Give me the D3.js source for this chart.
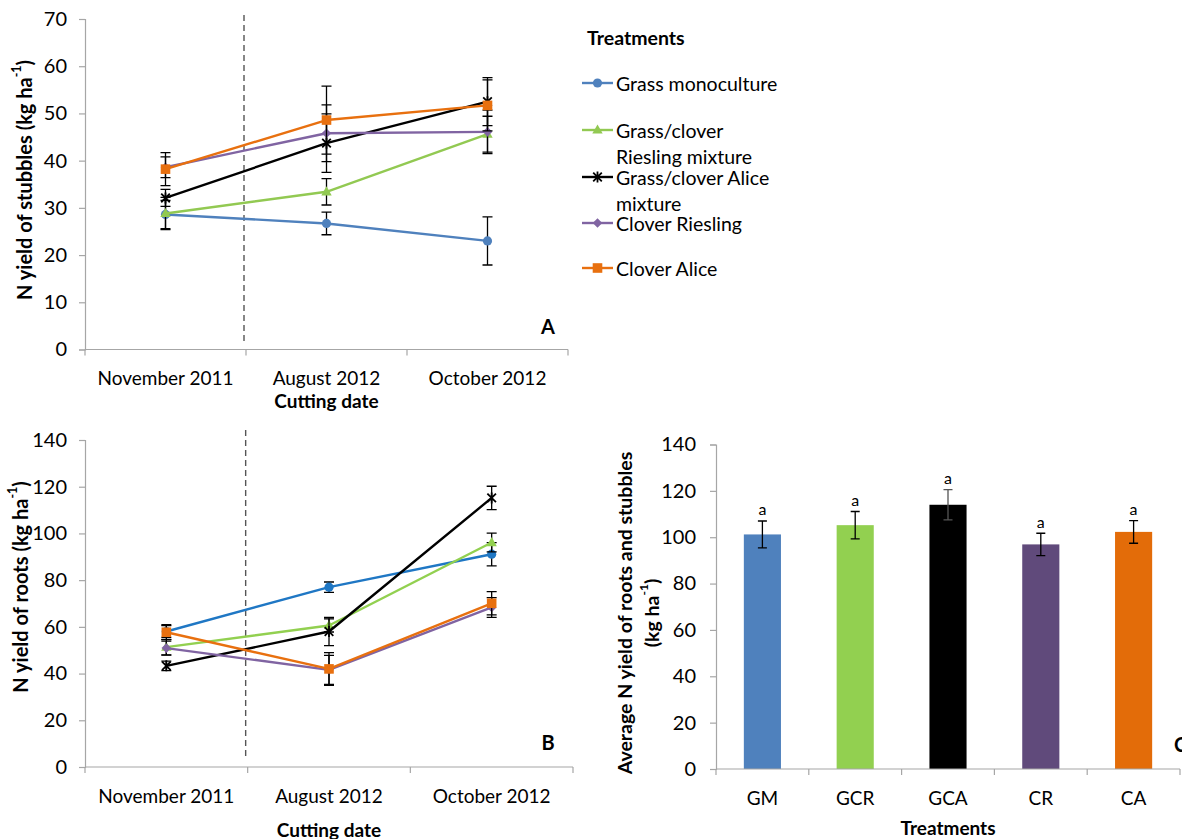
<!DOCTYPE html>
<html>
<head>
<meta charset="utf-8">
<script src="https://cdn.jsdelivr.net/npm/d3@7"></script>
<style>
  body { margin: 0; background: #fff; }
  svg { display: block; }
  text { font-family: Lato, "Open Sans", sans-serif; fill: #000; }
</style>
</head>
<body>
<svg id="fig" width="1182" height="839"></svg>
<script>
// ---------- data ----------
const cuttingDates = ["November 2011", "August 2012", "October 2012"];
const treatmentCodes = ["GM", "GCR", "GCA", "CR", "CA"];
const legendLabels = [
  ["Grass monoculture"],
  ["Grass/clover", "Riesling mixture"],
  ["Grass/clover Alice", "mixture"],
  ["Clover Riesling"],
  ["Clover Alice"]
];

// A: N yield of stubbles (kg/ha), mean and standard error per cutting date
const stubbleGM  = [28.6, 26.7, 23.0], stubbleGMErr  = [3.0, 2.4, 5.1];
const stubbleGCR = [28.8, 33.4, 45.6], stubbleGCRErr = [3.4, 2.8, 3.8];
const stubbleGCA = [32.1, 43.7, 52.5], stubbleGCAErr = [1.8, 6.2, 5.1];
const stubbleCR  = [38.6, 45.8, 46.1], stubbleCRErr  = [2.2, 6.0, 4.6];
const stubbleCA  = [38.2, 48.6, 51.7], stubbleCAErr  = [3.5, 7.2, 5.4];

// B: N yield of roots (kg/ha)
const rootGM  = [58.0, 77.0, 91.1],  rootGMErr  = [2.5, 2.2, 5.0];
const rootGCR = [51.3, 60.6, 96.1],  rootGCRErr = [3.3, 2.8, 4.0];
const rootGCA = [43.3, 58.0, 115.2], rootGCAErr = [2.0, 6.0, 5.0];
const rootCR  = [50.9, 41.6, 68.3],  rootCRErr  = [3.0, 6.2, 4.2];
const rootCA  = [57.7, 42.0, 70.1],  rootCAErr  = [3.2, 7.0, 5.0];

// C: average N yield of roots and stubbles (kg/ha)
const averageN    = [101.2, 105.2, 114.0, 96.9, 102.3];
const averageNErr = [5.8, 5.9, 6.5, 4.8, 4.9];
const significance = ["a", "a", "a", "a", "a"];

const ticksA = [0, 10, 20, 30, 40, 50, 60, 70];
const ticksB = [0, 20, 40, 60, 80, 100, 120, 140];
const ticksC = [0, 20, 40, 60, 80, 100, 120, 140];

// ---------- styles ----------
const markerShapes = ["circle", "triangle", "asterisk", "diamond", "square"];
const lineColorsA = ["#4F81BD", "#92C952", "#000000", "#8064A2", "#E8700F"];
const lineColorsB = ["#1F77C4", "#92D050", "#000000", "#8064A2", "#E8700F"];
const barColors   = ["#4F81BD", "#92D050", "#000000", "#604A7B", "#E36C09"];
const axisGrey = "#A6A6A6";

const svg = d3.select("#fig");

function drawMarker(g, shape, x, y, color) {
  if (shape === "circle") {
    g.append("circle").attr("cx", x).attr("cy", y).attr("r", 4.6).attr("fill", color);
  } else if (shape === "square") {
    g.append("rect").attr("x", x - 4.8).attr("y", y - 4.8).attr("width", 9.6).attr("height", 9.6).attr("fill", color);
  } else if (shape === "triangle") {
    g.append("path").attr("d", `M${x},${y - 5.5}L${x + 5.2},${y + 3.6}L${x - 5.2},${y + 3.6}Z`).attr("fill", color);
  } else if (shape === "diamond") {
    g.append("path").attr("d", `M${x},${y - 4.8}L${x + 4.8},${y}L${x},${y + 4.8}L${x - 4.8},${y}Z`).attr("fill", color);
  } else if (shape === "asterisk") {
    const s = 4.3;
    g.append("path")
      .attr("d", `M${x - s},${y - s}L${x + s},${y + s}M${x - s},${y + s}L${x + s},${y - s}M${x},${y - 5.5}L${x},${y + 5.5}`)
      .attr("stroke", color).attr("stroke-width", 1.8).attr("fill", "none");
  }
}

function yTitle(x, y, parts, size) {
  const t = svg.append("text")
    .attr("transform", `translate(${x},${y}) rotate(-90)`)
    .attr("text-anchor", "middle")
    .attr("dominant-baseline", "central")
    .attr("font-weight", "bold")
    .attr("font-size", size);
  parts.forEach(p => {
    const ts = t.append("tspan").text(p.t);
    if (p.sup) ts.attr("baseline-shift", "super").attr("font-size", size * 0.62);
  });
  return t;
}

// ---------- line panels (A and B) ----------
function linePanel(cfg) {
  const x = d3.scaleBand().domain(cuttingDates).range(cfg.xRange).padding(0);
  const y = d3.scaleLinear().domain(cfg.yDomain).range(cfg.yRange);
  const g = svg.append("g");

  // y axis
  const ya = g.append("g").attr("transform", `translate(${cfg.xRange[0]},0)`)
    .call(d3.axisLeft(y).tickValues(cfg.ticks).tickSize(6).tickPadding(12));
  ya.select(".domain").attr("stroke", axisGrey).attr("stroke-width", 1.2);
  ya.selectAll(".tick line").attr("stroke", axisGrey).attr("stroke-width", 1.2);
  ya.selectAll(".tick text").attr("font-size", 20).attr("font-family", "Lato, sans-serif").attr("fill", "#000");

  // x axis: baseline and tick marks at category boundaries
  const y0 = y(0);
  g.append("line").attr("x1", cfg.xRange[0]).attr("x2", cfg.xRange[1])
    .attr("y1", y0).attr("y2", y0).attr("stroke", axisGrey).attr("stroke-width", 1.2);
  const bounds = cuttingDates.map(d => x(d)).concat([x(cuttingDates[2]) + x.bandwidth()]);
  g.selectAll(".xt").data(bounds).join("line")
    .attr("x1", d => d).attr("x2", d => d).attr("y1", y0).attr("y2", y0 + 6)
    .attr("stroke", axisGrey).attr("stroke-width", 1.2);
  g.selectAll(".xl").data(cuttingDates).join("text")
    .attr("x", d => x(d) + x.bandwidth() / 2).attr("y", cfg.tickLabelY)
    .attr("text-anchor", "middle").attr("dominant-baseline", "central")
    .attr("font-size", 19).text(d => d);

  // dashed separator between first and second cutting
  const dx = x(cuttingDates[1]) - 2;
  g.append("line").attr("x1", dx).attr("x2", dx).attr("y1", cfg.dashTop).attr("y2", cfg.dashBottom)
    .attr("stroke", "#555").attr("stroke-width", 1.4).attr("stroke-dasharray", "6,4");

  const cx = d => x(d) + x.bandwidth() / 2;

  cfg.series.forEach((vals, i) => {
    const errs = cfg.errors[i];
    const color = cfg.colors[i];
    const sg = g.append("g");
    // error bars
    vals.forEach((v, j) => {
      const px = cx(cuttingDates[j]);
      const hi = y(v + errs[j]), lo = y(v - errs[j]);
      sg.append("path")
        .attr("d", `M${px},${hi}L${px},${lo}M${px - 5},${hi}L${px + 5},${hi}M${px - 5},${lo}L${px + 5},${lo}`)
        .attr("stroke", "#000").attr("stroke-width", 1.3).attr("fill", "none");
    });
    // line
    const line = d3.line().x((v, j) => cx(cuttingDates[j])).y(v => y(v));
    sg.append("path").attr("d", line(vals)).attr("fill", "none")
      .attr("stroke", color).attr("stroke-width", 2.4).attr("stroke-linejoin", "round");
    vals.forEach((v, j) => drawMarker(sg, markerShapes[i], cx(cuttingDates[j]), y(v), color));
  });

  // panel letter
  g.append("text").attr("x", cfg.letterPos[0]).attr("y", cfg.letterPos[1])
    .attr("text-anchor", "middle").attr("dominant-baseline", "central")
    .attr("font-size", 20).attr("font-weight", "bold").text(cfg.letter);

  // x title
  g.append("text").attr("x", (cfg.xRange[0] + cfg.xRange[1]) / 2).attr("y", cfg.xTitleY)
    .attr("text-anchor", "middle").attr("dominant-baseline", "central")
    .attr("font-size", 19).attr("font-weight", "bold").text("Cutting date");
}

linePanel({
  xRange: [85, 568], yDomain: [0, 70], yRange: [349.5, 19], ticks: ticksA,
  tickLabelY: 377, xTitleY: 400, dashTop: 15, dashBottom: 344,
  series: [stubbleGM, stubbleGCR, stubbleGCA, stubbleCR, stubbleCA],
  errors: [stubbleGMErr, stubbleGCRErr, stubbleGCAErr, stubbleCRErr, stubbleCAErr],
  colors: lineColorsA, letter: "A", letterPos: [548, 326]
});
yTitle(24, 180, [{t: "N yield of stubbles (kg ha"}, {t: "-1", sup: true}, {t: ")"}], 20);

linePanel({
  xRange: [85, 573], yDomain: [0, 140], yRange: [767, 440], ticks: ticksB,
  tickLabelY: 795, xTitleY: 829, dashTop: 430, dashBottom: 759,
  series: [rootGM, rootGCR, rootGCA, rootCR, rootCA],
  errors: [rootGMErr, rootGCRErr, rootGCAErr, rootCRErr, rootCAErr],
  colors: lineColorsB, letter: "B", letterPos: [548, 742]
});
yTitle(20, 587, [{t: "N yield of roots (kg ha"}, {t: "-1", sup: true}, {t: ")"}], 20);

// ---------- legend ----------
const legend = svg.append("g");
legend.append("text").attr("x", 587).attr("y", 37).attr("dominant-baseline", "central")
  .attr("font-size", 19.5).attr("font-weight", "bold").text("Treatments");
const legendRowY = [83, 130, 177, 223, 268];
legendLabels.forEach((lines, i) => {
  const ry = legendRowY[i];
  legend.append("line").attr("x1", 582).attr("x2", 613).attr("y1", ry).attr("y2", ry)
    .attr("stroke", lineColorsA[i]).attr("stroke-width", 2.4);
  drawMarker(legend, markerShapes[i], 597.5, ry, lineColorsA[i]);
  lines.forEach((ln, k) => {
    legend.append("text").attr("x", 616).attr("y", ry + k * 26)
      .attr("dominant-baseline", "central").attr("font-size", 19.5).text(ln);
  });
});

// ---------- bar panel (C) ----------
(function barPanel() {
  const x = d3.scaleBand().domain(treatmentCodes).range([716, 1180]).paddingInner(0.6).paddingOuter(0.3);
  const y = d3.scaleLinear().domain([0, 140]).range([769, 444.5]);
  const g = svg.append("g");
  const step = x.step();

  const ya = g.append("g").attr("transform", "translate(716,0)")
    .call(d3.axisLeft(y).tickValues(ticksC).tickSize(6).tickPadding(14));
  ya.select(".domain").attr("stroke", axisGrey).attr("stroke-width", 1.2);
  ya.selectAll(".tick line").attr("stroke", axisGrey).attr("stroke-width", 1.2);
  ya.selectAll(".tick text").attr("font-size", 20).attr("font-family", "Lato, sans-serif").attr("fill", "#000");

  g.selectAll(".bar").data(averageN).join("rect")
    .attr("x", (d, i) => x(treatmentCodes[i])).attr("width", x.bandwidth())
    .attr("y", d => y(d)).attr("height", d => y(0) - y(d))
    .attr("fill", (d, i) => barColors[i]);

  const y0 = y(0);
  g.append("line").attr("x1", 716).attr("x2", 1180).attr("y1", y0).attr("y2", y0)
    .attr("stroke", axisGrey).attr("stroke-width", 1.2);
  g.selectAll(".xt").data(d3.range(treatmentCodes.length + 1)).join("line")
    .attr("x1", i => 716 + i * step).attr("x2", i => 716 + i * step)
    .attr("y1", y0).attr("y2", y0 + 6).attr("stroke", axisGrey).attr("stroke-width", 1.2);

  averageN.forEach((v, i) => {
    const px = x(treatmentCodes[i]) + x.bandwidth() / 2;
    const hi = y(v + averageNErr[i]), lo = y(v - averageNErr[i]);
    g.append("path")
      .attr("d", `M${px},${hi}L${px},${lo}M${px - 4.5},${hi}L${px + 4.5},${hi}M${px - 4.5},${lo}L${px + 4.5},${lo}`)
      .attr("stroke", i === 2 ? "#555" : "#000").attr("stroke-width", 1.3).attr("fill", "none");
    g.append("text").attr("x", px).attr("y", hi - 12)
      .attr("text-anchor", "middle").attr("dominant-baseline", "central")
      .attr("font-size", 16).text(significance[i]);
  });

  g.selectAll(".xl").data(treatmentCodes).join("text")
    .attr("x", d => x(d) + x.bandwidth() / 2).attr("y", 797)
    .attr("text-anchor", "middle").attr("dominant-baseline", "central")
    .attr("font-size", 19).text(d => d);

  g.append("text").attr("x", 948).attr("y", 827)
    .attr("text-anchor", "middle").attr("dominant-baseline", "central")
    .attr("font-size", 19).attr("font-weight", "bold").text("Treatments");

  g.append("text").attr("x", 1174).attr("y", 744)
    .attr("text-anchor", "start").attr("dominant-baseline", "central")
    .attr("font-size", 20).attr("font-weight", "bold").text("C");

  yTitle(624, 613, [{t: "Average N yield of roots and stubbles"}], 19.5);
  yTitle(651, 613, [{t: "(kg ha"}, {t: "-1", sup: true}, {t: ")"}], 19.5);
})();
</script>
</body>
</html>
